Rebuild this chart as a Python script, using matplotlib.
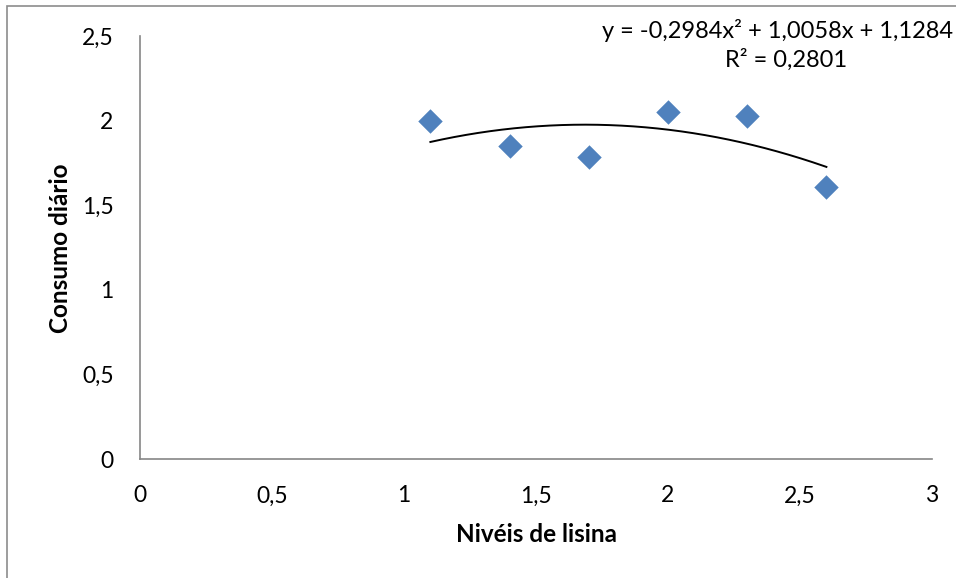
import numpy as np
import matplotlib.pyplot as plt
from matplotlib.patches import Rectangle

# dados
niveis = [1.1, 1.4, 1.7, 2.0, 2.3, 2.6]
consumo = [2.00, 1.85, 1.785, 2.05, 2.03, 1.61]
coef = [-0.2984, 1.0058, 1.1284]   # linha de tendencia polinomial (Excel)
r2 = 0.2801

x_ticks = [0, 0.5, 1, 1.5, 2, 2.5, 3]
y_ticks = [0, 0.5, 1, 1.5, 2, 2.5]

def br(v):
    return ("%g" % v).replace(".", ",")

plt.rcParams["font.family"] = ["Lato", "DejaVu Sans"]

fig = plt.figure(figsize=(9.56, 5.78), dpi=100)
W, H = 956, 578
ax = fig.add_axes([140 / W, 1 - 459 / H, (932 - 140) / W, (459 - 36) / H])

# moldura do grafico
fig.patches.append(Rectangle((7 / W, -0.1), 1.2, 1 - 6 / H + 0.1, transform=fig.transFigure,
                             fill=False, edgecolor="#8c8c8c", lw=1.2))

ax.scatter(niveis, consumo, marker="D", s=155, color="#4F81BD", zorder=3, linewidths=0)

xs = np.linspace(min(niveis), max(niveis), 200)
ax.plot(xs, np.polyval(coef, xs), color="black", lw=1.4, zorder=2)

ax.set_xlim(0, 3)
ax.set_ylim(0, 2.5)
ax.set_xticks(x_ticks)
ax.set_yticks(y_ticks)
ax.set_xticklabels([br(v) for v in x_ticks], fontsize=16.5)
ax.set_yticklabels([br(v) for v in y_ticks], fontsize=16.5)
ax.tick_params(length=0)
ax.tick_params(axis="x", pad=19)
ax.tick_params(axis="y", pad=19)

for s in ["top", "right"]:
    ax.spines[s].set_visible(False)
for s in ["left", "bottom"]:
    ax.spines[s].set_color("#868686")
    ax.spines[s].set_linewidth(1.2)

fig.text(536 / W, 1 - 535 / H, "Nivéis de lisina", ha="center", va="center",
         fontsize=17.5, fontweight="bold")
fig.text(60 / W, 1 - 248 / H, "Consumo diário", ha="center", va="center",
         rotation=90, fontsize=17.5, fontweight="bold")

eq = "y = %sx² + %sx + %s" % (br(coef[0]), br(coef[1]), br(coef[2]))
fig.text(953 / W, 1 - 31 / H, eq, ha="right", va="center", fontsize=17)
fig.text(786 / W, 1 - 60 / H, "R² = " + br(r2), ha="center", va="center", fontsize=17)

fig.savefig("out.png", dpi=100)
